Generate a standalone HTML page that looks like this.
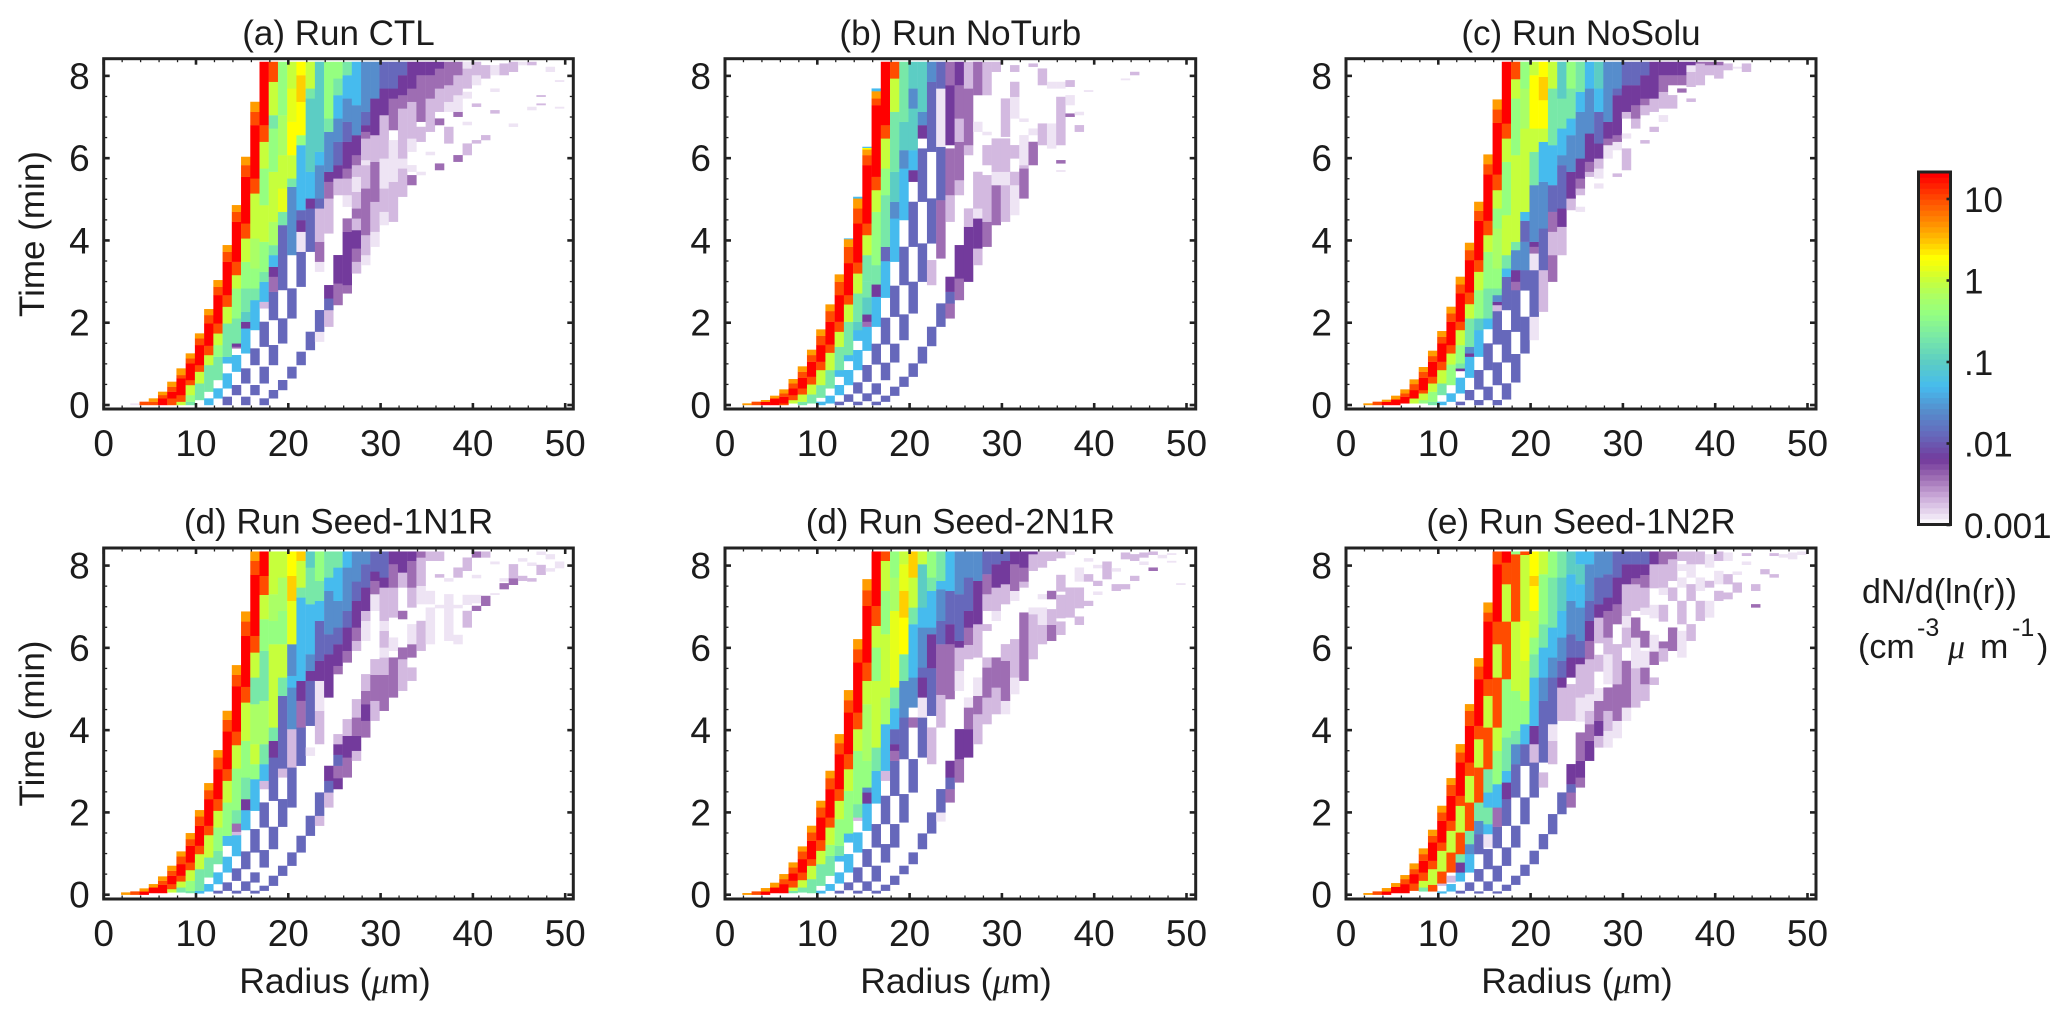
<!DOCTYPE html>
<html lang="en">
<head>
<meta charset="utf-8">
<title>Droplet size distribution time series</title>
<style>
html,body{margin:0;padding:0;background:#fff;}
svg{display:block;font-family:"Liberation Sans",sans-serif;fill:#1c1c1c;}
.mu{font-family:"Liberation Serif",serif;font-style:italic;}
</style>
</head>
<body>
<svg id="figure" xmlns="http://www.w3.org/2000/svg" width="2067" height="1020" viewBox="0 0 2067 1020">
<rect x="0" y="0" width="2067" height="1020" fill="#ffffff"></rect>
<g id="panels"></g>
<g id="colorbar"></g>
<text transform="translate(44,234) rotate(-90)" text-anchor="middle" font-size="35">Time (min)</text>
<text transform="translate(44,723.5) rotate(-90)" text-anchor="middle" font-size="35">Time (min)</text>
<text x="335" y="993" text-anchor="middle" font-size="35.5">Radius (<tspan class="mu">μ</tspan>m)</text>
<text x="956" y="993" text-anchor="middle" font-size="35.5">Radius (<tspan class="mu">μ</tspan>m)</text>
<text x="1577" y="993" text-anchor="middle" font-size="35.5">Radius (<tspan class="mu">μ</tspan>m)</text>
<text x="1862" y="603" font-size="34">dN/d(ln(r))</text>
<g font-size="34">
<text x="1858" y="658">(cm</text>
<text x="1917" y="636" font-size="25">-3</text>
<text class="mu" x="1948" y="658">μ</text>
<text x="1980" y="658">m</text>
<text x="2012" y="636" font-size="25">-1</text>
<text x="2037" y="658">)</text>
</g>
</svg>
<script>
// log10(dN/d ln r) levels
const R=1.3,O=1,A=.65,Q=.45,Y=.29,U=.15,L=0,H=-.2,G=-.4,T=-.7,C=-1,S=-1.3,B=-1.6,I=-1.9,P=-2.2,M=-2.42,V=-2.72,W=-2.9,N=-3;

const timeStepMinutes = 0.081;
const panelTitles = ["(a) Run CTL","(b) Run NoTurb","(c) Run NoSolu","(d) Run Seed-1N1R","(d) Run Seed-2N1R","(e) Run Seed-1N2R"];
const radiusTicks = [0,10,20,30,40,50];
const timeTicks = [0,2,4,6,8];
const colorbarTicks = [10,1,.1,.01,.001];
const colorbarTickLabels = ["10","1",".1",".01","0.001"];

// each row: radius bin, then time-step, log-value, time-step, log-value, ... closing time-step
const cellsA = [
[3,0,W,.5],[4,0,O,1],[5,0,O,1,A,2],[6,0,R,2,O,3,A,4],[7,0,O,2,R,4,O,5.5,A,7],
[8,0,L,1,O,3,R,8,O,9,A,11],[9,0,T,1,G,3,L,6,O,7.5,R,12.5,O,14,A,15.5],
[10,1.5,T,6.5,L,10,O,12,R,18,O,20,A,21.5],
[11,0,S,2,N,4,T,12,L,15,O,17.8,R,24.5,O,27,A,28.8],
[12,2,S,5,N,7.5,T,14.5,G,18,L,21.5,O,24.5,R,33,O,35.5,A,37.5],
[13,0,I,2.5,N,5,S,9.5,N,12.5,S,14.5,T,24.5,L,29.5,O,33,R,43,O,46,A,48],
[14,3,I,6,N,10,S,15,N,17,M,17.5,P,18.5,T,26,G,35,L,39,O,43,R,55,O,58,A,60],
[15,0,I,2.5,N,6.5,I,11,N,15.5,S,23,P,25,C,28,T,35,G,43,L,50,O,54.5,R,68.5,O,72,A,74.5],
[16,3,I,6,N,12,I,17,N,22.5,S,31.5,T,35,G,41,H,50,L,63.5,O,68,R,84,O,88,A,91],
[17,0,I,2,N,6.5,I,11.5,N,17.5,I,25,N,29,V,31,S,37,T,40,G,49,L,60,G,71,L,79,O,84,R,103],
[18,2,I,4.5,N,12,I,18,N,25.5,I,34,M,38.5,P,41.5,S,45,T,48,H,55,L,70,G,83,T,87,L,97,O,103],
[19,4.5,I,7.5,N,18.5,I,26,N,34.5,I,54,T,58,U,65,L,75,H,87,G,103],
[20,8,I,11.5,N,26,I,35,N,45,B,65.5,T,68,L,75,Y,85,U,95,L,103],
[21,12,I,16,N,35.5,I,46,W,52,P,55.5,I,58.5,S,78,G,81,Y,91,Q,99,Y,103],
[22,16.5,I,22,N,46,I,59,P,62,S,70,C,92,T,95,L,103],
[23,19,W,22,I,28.5,N,40,W,43,M,49,V,59,I,62,B,72,S,76,C,103],
[24,23.5,V,28.5,I,32,P,36,N,51.5,V,62,M,67,P,70,B,82,T,86,G,103],
[25,30,M,36.5,P,45,N,63,V,68,P,72,I,79,B,86,S,93,T,98,G,103],
[26,33.5,M,36,P,52,M,56,N,59.5,W,63,V,68,M,71,P,79,I,85,B,92,S,99,T,103],
[27,39.5,V,43,M,47,P,52.5,V,56,M,59,V,64,W,68.5,V,72,M,75,P,81,B,90,S,103],
[28,42,W,45,V,51,M,65,V,72,W,73.5,V,80,M,82,P,84,I,88,B,103],
[29,47.5,W,52,V,61,M,73,V,81,P,92,B,103],
[30,54,W,58,V,65,W,74,V,87,P,95,I,103],
[31,55,V,67,W,79.5,N,82.5,M,92,P,95,I,103],
[32,62.5,V,71,W,74,V,89,M,93,P,99,I,103],
[33,66,M,69,N,70,W,72,N,76,W,80,V,91,M,95,P,103],
[34,69,W,70,N,79,V,83.5,N,85,M,99,P,103],
[35,75,W,76,N,82,V,92,M,99,P,103],
[36,70.5,M,72.5,N,84,M,86,N,88,V,95,M,101,P,103],
[37,78.5,V,83.5,N,88,W,91,V,96,M,103],
[38,73,M,75,N,86.5,M,88,W,93,V,99,M,103],
[39,75,V,78.5,N,84,W,85,N,92,W,94,N,95,V,101,W,103],
[40,78.5,V,79.5,N,89.5,V,90.5,N,96,W,99,V,103],
[41,79.5,V,81,N,98,V,102],[42,87.5,V,88.5,N,94,W,95,N,99,W,102],[43,99,V,102.5],
[44,83.5,W,84.5,N,100,V,103],[45,102,W,103],[46,88.5,W,89.5,N,102,V,103],
[47,90,V,90.5,N,92.5,V,93],[48,100,W,101.5],[49,89,W,89.5,N,97,W,97.5]
];

const cellsB = [
[2,0,A,.5],[3,0,O,1],[4,0,R,1,A,1.5],[5,0,R,2,A,2.8],[6,0,O,.5,R,2.5,O,3.5,A,4.7],
[7,.5,L,1.5,O,3,R,5,O,6.5,A,7.8],[8,0,T,1,L,3.2,O,5,R,8.2,O,10,A,11.6],
[9,.5,T,3.2,L,6.2,O,8.5,R,13,O,15,A,16.6],
[10,0,S,1,N,2.2,T,6,L,10.5,O,13,R,18,O,20.8,A,22.7],
[11,.5,S,2.8,N,5,T,10.5,L,15.7,O,18.2,R,25,O,28.2,A,30.2],
[12,0,I,1,N,3,S,6,N,8.5,S,10.5,T,17.5,L,22,O,25,R,33,O,37,A,39.2],
[13,1,I,3.2,N,6,S,10.5,N,13.2,S,15,T,25,L,30.2,O,33,R,42.6,O,47.5,A,49.8,S,50],
[14,0,I,1,N,3.5,I,6.8,N,10.5,S,16.5,N,19.3,S,22.5,C,25,T,33.5,L,39.5,O,42.8,R,54.5,O,59,A,62,S,62.5],
[15,1.2,I,3.5,N,7,I,12,N,16.3,S,23.5,M,25,P,27.2,C,32.3,T,37,T,45,L,51,O,54.5,R,72,O,75,A,76.7,Y,77.2,S,77.5],
[16,0,I,1,N,3.2,I,6.5,N,12.2,I,18.4,N,23.5,S,32.5,P,36.2,T,42,G,58,L,64.5,O,68.5,R,90,O,92,A,94.2,S,95],
[17,1,I,2.8,N,7.5,I,12.7,N,18.2,I,26.2,N,32.2,S,43.2,I,47.5,T,63,G,71,L,80,O,84,R,103],
[18,2.8,I,5.5,N,12.8,I,18.4,N,26.5,I,35.8,N,43,S,56,B,61,C,70,T,88,L,98,O,103],
[19,5.5,I,8.5,N,19.5,I,27.2,N,36,I,47.5,N,55.5,S,71,B,76.5,C,85,T,103],
[20,8.5,I,12.5,N,27.5,I,37,N,47.5,I,61,N,67,P,70.5,S,76.5,C,89,B,95,C,103],
[21,12.5,I,17.5,N,37,I,48.5,N,61,I,77,N,80,P,84,B,88,C,103],
[22,17.7,I,23.5,N,36,V,43.5,N,48.5,I,62,N,76,I,97,B,103],
[23,23.5,I,30.5,N,44,M,61.5,I,77.5,W,95,I,103],
[24,26,M,30.5,I,34,P,38.5,N,55,V,63,M,77,N,78,P,96,M,103],
[25,31.5,M,38,P,48,N,63,V,67.5,M,79,V,86,M,96,P,103],
[26,37,P,53.5,V,59,N,75,V,78,M,95,V,103],
[27,42,V,47,P,56,W,59,V,70,N,82,W,85,N,93,M,103],
[28,47.5,M,55,V,69,N,72,V,78,N,81,W,82,N,93,V,103],
[29,54,M,66,W,70,V,80,N,100,V,103],
[30,55,V,66,W,70,V,80,N,80.5,V,92],
[31,57,W,66,V,70,N,74,V,78,N,86,W,92.5,V,97,N,100,V,102],
[32,62,M,71,V,72,N,72,W,81,N,85,W,86],
[33,72,M,79,N,81,W,83,N,101.5,V,102.5],
[34,78,V,84.5,N,96,V,101],[35,77,W,84.5,N,95,W,97],
[36,70,W,70.5,N,72.5,M,73.5,N,78,V,92.5,N,95,W,97],
[37,86.5,M,87.5,N,90,W,93,N,95.5,V,97.5],[38,82,V,84,N,87,W,88],[39,94,W,94.5],
[43,97.5,W,98],[44,99,V,100]
];

const cellsC = [
[2,0,A,.5],[3,0,O,1],[4,0,R,1,A,1.6],[5,0,R,1.7,A,2.8],[6,.5,R,2.5,O,3.5,A,4.7],
[7,.5,L,2,R,4.5,O,6.3,A,7.7],[8,.5,G,1.5,L,3.5,O,4.5,R,8.2,O,10,A,11.4],
[9,0,T,1,G,4,L,6.5,O,8.5,R,13,O,14.7,A,16.3],
[10,0,S,1,N,3,T,6.5,L,10.5,O,13,R,18.5,O,20.5,A,22.2],
[11,1,S,3.5,N,6,G,12.2,L,15.5,O,18,R,25,O,27.5,A,29.5],
[12,0,I,1,N,3.5,S,8.2,N,10.2,P,11,T,12.5,G,18,L,22.5,O,25,R,33.5,O,36.2,A,38.5],
[13,1.5,I,4.5,N,8.2,S,14.5,P,15.5,B,17.5,T,26,L,30.3,O,33.8,R,43.5,O,46.5,A,48.7],
[14,0,I,1.5,N,4.7,I,10.5,N,14.5,S,22.5,C,26,G,34.5,L,40,O,43.5,R,55.3,O,58.3,A,61],
[15,1.5,I,5.5,N,10.5,I,18.5,N,22.8,S,26,T,35,G,46,L,51,O,55.3,R,69.2,O,72.3,A,75.2],
[16,0,I,1.5,N,6,I,12.8,N,18.2,I,28.2,V,30,P,31,B,33,T,35,G,41,H,53,G,59,L,64.5,O,69.2,R,84.7,O,88.7,A,91.7],
[17,1.7,I,6.5,N,12.8,I,22.5,N,28.5,I,38.5,S,41,T,45,L,57,G,73,L,80,O,84.5,R,103],
[18,6.8,I,15.3,N,22,I,34.5,M,37,P,40.5,B,46.5,T,49,L,75,G,92,L,97.8,O,103],
[19,15.5,I,26.5,N,34.4,I,40.5,B,49,I,55.3,S,58,L,83,H,95,G,103],
[20,19.5,W,26.5,I,40.5,W,45.5,M,47.5,P,49,B,66,T,76,L,83,Y,99,L,103],
[21,28,V,40.5,I,53,B,67,S,79,L,83,Y,91.5,Q,98.5,Y,103],
[22,37,M,45,V,52,M,58,I,66,S,78,T,95,L,103],
[23,45,V,53.5,P,59,I,72,B,75,S,83,T,92,C,103],
[24,58.5,V,62,P,70,B,81,S,86,T,95,G,103],
[25,58,W,59.5,N,63,V,65,M,68,P,74,B,88,S,94,T,103],
[26,68.5,V,70,M,73,P,81.5,B,95,S,103],
[27,65,W,66.5,N,68,W,71,V,74,P,78.5,I,88,S,95,C,103],
[28,74,W,78,M,80,P,85,B,103],
[29,68.5,V,69.5,N,76.5,W,79,M,81,P,93,I,95,B,103],
[30,70.5,V,77,N,80,W,81.5,N,86,V,88,P,96,I,103],
[31,83,V,86,M,90,P,96,I,103],
[32,78.5,V,79.5,N,87,V,90,M,92,P,99,I,103],
[33,82,V,83.5,N,88,V,92,P,103],
[34,85,W,87,N,89,V,94,M,99,P,103],
[35,89,V,93,N,96,M,99,P,103],
[36,93.8,M,95,N,96,M,99,P,103],
[37,91,V,92,N,95.5,V,100,W,102,P,103],
[38,96,V,102.5,M,103],[39,99,V,102,M,103],[40,98,V,102,M,103],[41,100.5,V,102.5],
[42,101,W,101.5],[43,100,V,102.5]
];

const cellsD = [
[2,0,A,.7],[3,0,O,1],[4,0,R,1,A,1.9],[5,.5,R,2.2,A,3.2],[6,.5,R,3,O,4.2,A,5.5],
[7,.7,L,1.7,O,3.2,R,5.7,O,7.2,A,8.7],[8,.7,T,2.2,L,4,O,5.7,R,9.2,O,11.5,A,13],
[9,.5,T,1.2,G,4.2,L,7.4,O,9.7,R,14.7,O,16.7,A,18.5],
[10,.4,S,1.2,T,7.7,L,12.2,O,14.7,R,20.7,O,23.5,A,25.4],
[11,1,S,3.2,N,5.2,T,11.2,L,17.9,O,20.7,R,28.7,O,31.4,A,33.5],
[12,.4,I,1.2,N,3.2,S,6.7,N,9.2,T,13.2,G,20.2,L,25.2,O,28.7,R,37.7,O,41.2,A,43.4],
[13,1.2,I,3.7,N,6.7,S,11.4,N,14.7,S,17.7,G,27.7,L,34.2,O,37.7,R,49,O,52.5,A,55.2],
[14,.4,I,1.2,N,4.2,I,7.9,N,11.6,S,17.9,V,18.9,M,21.4,T,25.4,G,37.9,L,44.9,O,49,R,62.6,O,66,A,68.9],
[15,1.2,I,4,N,7.7,I,13,N,19.4,S,25.4,P,28.7,T,35.2,G,46.2,L,57.7,O,62.4,R,77.7,O,82,A,85],
[16,.4,I,1.2,N,3.7,I,6.7,N,12.7,I,19.7,N,25.2,S,34.7,G,39.2,L,45.2,H,57.2,T,65.2,L,72.7,O,77.7,R,96,O,100.2,A,103],
[17,1.2,I,2.7,N,8.2,I,13.4,N,20.2,I,27.7,N,31.7,V,34.2,S,39.2,T,45.2,H,58.2,T,73.2,G,82.7,L,90,O,95.7,R,103],
[18,2.7,I,5.7,N,13.7,I,20.4,N,28.2,I,41.2,P,46.2,T,50.2,L,75.2,G,82.2,H,90.2,L,103],
[19,5.7,I,8.7,N,20.4,I,28.7,N,35.2,V,37.9,I,59.7,T,65.2,L,75.2,G,85.2,H,95.2,L,103],
[20,8.7,I,12.7,N,26.2,I,38.2,V,49.7,B,62.2,S,65.7,B,75.2,U,88.2,Q,95.7,Y,103],
[21,12.7,I,17.7,N,38.7,I,50.2,M,58.2,P,64.2,S,89.2,T,92.2,L,100.2,Q,103],
[22,17.7,I,23.7,N,41.7,W,44.2,N,50.7,I,64.2,P,67.2,B,72.2,S,87.2,T,98.2,C,103],
[23,20.7,V,23.7,I,30.7,N,45.2,V,55.2,W,64.2,P,70.2,I,82.2,S,88.2,T,94.2,G,103],
[24,26.2,V,30.7,I,34.2,P,38.7,N,59.2,P,72.2,I,78.2,B,91.2,S,95.2,T,103],
[25,31.7,P,35,M,38.7,I,42,P,45.2,V,48.2,N,66.2,M,68.7,P,75.2,I,80.2,B,88.2,S,98.2,T,103],
[26,35.2,M,41.2,P,47.7,V,52.7,N,69.7,M,73.2,P,80.2,I,85.2,B,98.2,S,103],
[27,40.2,V,43.2,P,47.7,M,53.2,V,58.7,N,73.2,V,76.2,M,80.2,P,88.2,I,94,B,103],
[28,47.2,M,52.2,P,57.2,M,61.2,V,66.2,N,76.2,W,82.2,V,85.2,P,92.2,I,99.2,B,103],
[29,52.2,V,58.2,M,66,V,70.7,N,85.2,W,90.2,M,94.2,P,97,I,103],
[30,55.2,M,66,V,71.2,W,74.2,V,79.2,W,82.2,V,92.2,P,95.2,I,103],
[31,59.2,M,71.2,N,73.2,W,77.2,N,83.2,V,92.2,M,99.2,P,103],
[32,61.2,V,70.7,M,74.2,N,82.7,M,85.2,N,92.2,V,96.7,P,103],
[33,64.2,V,68.2,N,71.2,M,75.2,W,81.2,N,86.2,V,92.2,M,100.2,P,103],
[34,73.2,V,82.2,N,87.2,W,92.7,V,101.2,M,103],
[35,75.2,W,86.2,N,87.2,W,91.2,N,100.2,V,103],
[36,86,W,87,N,95.2,V,96.2,N,100.2,V,103],
[37,76.2,W,90.2,N,94,W,95],
[38,75.2,W,78,N,86,W,87,N,95.2,V,98.2],
[39,80.2,V,85.2,N,87,W,90,N,97.2,V,101.2],
[40,85.2,M,86.7,N,87.5,W,90,N,95,W,96,N,101.2,M,103],
[41,86.7,M,89.7,N,101.2,V,103],[42,90,W,90.5,N,99.2,W,100],[43,91.7,M,93.5,N,94,W,95],
[44,93,M,95,V,99.2],[45,94.2,V,95.7,N,100,W,101],[46,94,V,95,N,98.7,W,99.7],
[47,96,V,99,N,102,W,103],[48,97,W,98,N,100.7,W,102.2],[49,98,W,100]
];

const cellsE = [
[2,0,A,.5],[3,0,O,1],[4,0,R,1,A,2],[5,.5,R,2.2,A,3.6],[6,.5,R,3.2,O,4.7,A,6.2],
[7,.5,T,1.2,L,2.2,O,4.2,R,6.4,O,8.2,A,9.7],[8,.7,T,2.2,L,4.4,O,6.7,R,10.7,O,13,A,14.5],
[9,.5,T,4.7,L,8.7,O,10.7,R,16.2,O,18.7,A,20.7],
[10,.4,S,1.2,N,2.7,T,9.2,L,13.2,O,16.4,R,23.2,O,26.2,A,28.2],
[11,1.2,S,3.2,N,5.7,T,11.7,G,15,L,20.2,O,23.2,R,31.7,O,35,A,37.2],
[12,.4,I,1.2,N,3.4,S,6.7,N,10,S,11.7,T,14.7,G,22.7,L,28.2,O,31.7,R,42.2,O,45.5,A,48.2],
[13,1.4,I,3.7,N,6.7,S,12.2,N,15.7,S,18.4,G,31.2,L,37.7,O,42.2,R,54.7,O,58.4,A,61.4],
[14,.4,I,1.2,N,3.7,I,8.2,N,12.7,S,18.7,N,22.2,V,23.2,T,27.2,G,43.2,L,49.7,O,54.7,R,69.7,O,73.7,A,76.7],
[15,1.2,I,4,N,8.4,I,13.7,N,19.2,S,27.4,P,30.7,B,32.2,G,40.2,H,57.2,L,64.2,O,69.7,R,86.7,O,91.4,A,94.7],
[16,.4,I,1.2,N,4,I,8.7,N,14.2,I,21.2,N,27.4,S,37.2,T,44.2,L,64.2,G,74.2,L,80.7,O,86.7,R,103],
[17,1.2,I,3,N,9.7,I,15.2,N,21.2,I,29.7,N,34.2,V,37.2,S,51.2,H,59.2,L,78.2,G,91.2,L,100.2,O,103],
[18,3,I,5.7,N,14.2,I,21.2,N,29.7,I,40.2,M,43.2,P,45.2,I,49.7,S,56,T,62.2,U,85.2,H,95.2,G,103],
[19,6.2,I,8.7,N,21.7,I,30.2,N,40.7,I,53.2,B,64.2,T,72.2,Y,83.2,Q,91.2,U,99.2,L,103],
[20,9.2,I,12.7,N,30.7,I,40.7,N,50.2,M,53.2,N,56.2,B,65.2,S,81.2,T,86.2,L,95.2,Q,103],
[21,13.7,I,18.4,N,41.2,I,53.2,W,59.2,P,65.2,I,68.2,B,80.2,S,86.2,C,99.2,L,103],
[22,18.4,I,24.7,N,39.2,V,50.2,N,53.7,I,68,P,78.2,B,80.2,S,91.2,T,95.2,G,103],
[23,22,W,24.7,I,31.7,N,50.2,V,60,M,75.2,I,82.2,B,91.7,S,94.2,T,103],
[24,27.7,M,31.7,I,35.2,P,40.2,N,58.7,M,75.2,P,81.2,I,91.2,S,103],
[25,33.7,M,40.7,P,49.7,N,61.2,W,67.2,V,74.2,P,76.2,I,90.2,B,103],
[26,41.2,P,49.7,M,56.2,W,59.2,N,70.7,V,75,M,80.2,P,85.2,I,95.2,B,103],
[27,45.2,V,54.2,M,59.7,W,65.2,N,71.2,V,81.2,P,94.2,B,103],
[28,51.2,V,59.2,M,68.2,V,71.2,N,79.2,V,81.2,N,85.2,V,90.2,M,96.2,I,103],
[29,54.2,V,62.2,M,71.2,N,82.2,W,85.2,V,92.2,P,99.2,I,103],
[30,54.2,W,58.2,M,70.2,V,75.2,N,87.2,V,93.2,P,100.2,I,103],
[31,60.2,W,65.2,V,76.7,N,88.2,W,91.2,M,99.2,P,103],
[32,64.2,M,84.7,N,92.2,V,94,M,98.2,P,103],
[33,70.7,V,84.2,W,86.2,N,97.2,V,102.2,P,103],
[34,75.2,V,81,W,86.2,N,88.7,W,90.2,N,98.2,V,103],
[35,76.2,M,81,V,85.7,N,88.7,M,91.2,N,100.2,V,103],
[36,78,V,82,N,83,V,90,N,91,V,96,N,101,V,103],
[37,83.2,V,92.2,N,102,W,103],
[38,81,V,83.5,N,86,V,92.2,N,94,W,98.2],
[39,86.7,V,88.2,N,94,V,96.2,N,100,W,101],
[40,90,W,91,N,92.7,V,94.2,N,98,W,99],
[41,94.7,V,100],[42,91.2,V,93.2,N,97,W,98],[43,91.7,V,93.2,N,100.7,V,102.7],
[44,94.2,V,95.7,N,100.2,V,102.2],[45,99,W,100,N,101.2,V,102.7],[46,97.2,M,98.2,N,102,V,103],
[47,101,W,102],[48,99.7,W,100.2,N,102,W,102.5],[49,93,W,93.5]
];

const cellsF = [
[2,0,A,.5],[3,0,O,1],[4,0,R,1,A,2],[5,.5,R,2.4,A,3.5],[6,.5,R,3.2,O,4.7,A,5.9],
[7,1.2,O,3.4,R,6.2,O,7.7,A,9.4],[8,1,T,2.2,L,4.2,O,6.7,R,10.2,O,12.2,A,13.9],
[9,1,O,3,L,7.7,O,10.2,R,15.7,O,17.7,A,19.5],
[10,.4,S,1,N,2.7,V,3.4,O,7,L,13.2,O,15.7,R,22.2,O,24.7,A,26.7],
[11,1,S,3.2,N,3.7,V,5.7,N,6.7,O,12.7,L,19.2,O,22.2,R,29.7,O,33,A,35],
[12,.4,I,1.2,N,4,S,6.7,P,9.7,T,12.2,O,18.7,L,26.7,O,29.7,R,39.7,O,42.7,A,45.2],
[13,1.2,I,3.7,N,6.7,S,12.2,B,15.2,T,19.2,O,27.7,L,35.7,O,39.7,R,50.7,O,55.2,A,57.2],
[14,.4,I,1,N,4,I,7.7,N,12.2,I,18.2,B,22.2,T,27.7,O,38.2,L,46.7,O,50.7,R,64.7,O,68.5,A,71],
[15,1.2,I,4,N,7.7,I,13.7,N,14.2,W,18.2,S,21.2,T,26.2,S,30.7,T,37.7,O,50.2,L,59.7,O,64.7,R,82,O,84.7,A,87.7],
[16,.4,I,1,N,4,I,8.7,N,14,I,20.4,M,26.2,S,33.2,G,43.2,L,50.2,O,65.2,L,75.2,O,82,R,99.2,O,103],
[17,1.2,I,3,N,8.7,I,14.2,N,20.7,I,28.7,P,33.7,S,37.2,T,47.2,G,64.7,O,82,L,93.2,O,99.7,R,103],
[18,3,I,5.7,N,14.2,I,20.7,N,29.2,I,39.2,B,45.2,T,49.2,G,61.2,L,82,O,102.2,G,103],
[19,5.7,I,9,N,21.2,I,29.2,N,38.7,I,45.2,S,51.2,G,58.2,L,70.2,U,82.2,L,102,O,103],
[20,9.2,I,13.2,N,29.2,I,39.7,V,45.2,P,50.7,S,65.2,T,72.2,G,77.2,L,85.2,Y,92.7,Q,95.7,Y,103],
[21,13.7,I,18.2,N,32.2,V,36.7,N,39.7,I,58.2,B,65.2,S,74.2,T,81.2,G,96.2,L,103],
[22,18.2,I,24.2,N,39.2,V,46.2,W,51.2,I,65.2,B,71.2,S,80.2,T,95.2,G,103],
[23,24.2,I,30.7,N,52.2,V,62.2,P,65.2,I,70.2,B,77.2,S,85.2,C,95.2,T,103],
[24,26.2,M,30.7,I,33.2,P,39.2,N,52.2,V,63.2,N,65.2,P,71.2,I,78.2,B,88.2,S,96.2,C,103],
[25,32.2,M,35.2,P,40.2,M,48.7,N,52,W,59.2,V,69.2,P,71.2,I,76.2,B,86.2,S,93.2,C,99.2,S,103],
[26,40.2,P,46.2,M,51.2,V,55.2,W,60.2,V,70.7,M,76.2,P,82.2,I,88.2,B,99.2,S,103],
[27,44.2,V,47.7,P,52.2,M,58.2,W,62,N,67,V,72,N,75.5,V,83.2,P,87.2,I,95.2,B,103],
[28,44.2,W,49.2,V,55.2,M,62.2,N,63.2,W,72.2,V,77.2,M,85.2,P,89.2,I,96.2,B,103],
[29,47,W,52.2,M,63.2,V,75.2,N,81.2,M,87.2,P,95.2,I,103],
[30,52.2,W,56.2,M,70.2,N,74.2,V,80.2,W,83.7,V,93.2,P,99.2,I,103],
[31,56.2,V,68,W,77.2,M,83.2,N,85.2,V,93.2,M,95,P,99.2,I,103],
[32,58.2,V,63.2,M,68.2,W,73.2,N,74.2,M,79.2,N,84,W,86.2,V,92.2,M,96,P,99.2,I,103],
[33,63,V,65.2,N,69,M,73,W,78,N,83,W,87,N,92,V,99.2,P,103],
[34,70,V,74,M,76,N,82,V,87,N,90,W,92.2,V,99.2,M,103],
[35,73.2,M,80.2,N,88.2,V,92.2,N,94.2,V,100.7,M,103],
[36,71.2,W,79.2,N,81.2,V,88.2,N,92.2,W,95.2,N,97.2,W,99.2,N,100.2,V,103],
[37,76.2,V,81.2,N,88.2,V,93.2,N,95.2,W,99.2,V,103],
[38,82.2,V,88.2,N,91.2,W,95.2,N,99.2,V,103],
[39,83.2,W,88.2,N,92.2,V,94.2,N,98.2,W,102.2],
[40,88.2,V,91.2,N,93.2,W,97.2,N,100.2,V,103],
[41,88.7,V,90.7,N,93.2,V,96.2,N,100.2,W,102.7],
[42,90.7,V,93.7,N,96,W,97],[43,99,W,100,N,101.7,V,102.5],[44,86.2,M,87.2,N,91.2,V,93.2],
[45,96.2,V,97.7],[46,95.2,V,96.2,N,101.7,V,102.5],[47,101.2,W,102.2],[48,100.7,W,102.7],[49,102,W,103]
];

const panelCells = [cellsA,cellsB,cellsC,cellsD,cellsE,cellsF];

const svgNs = "http://www.w3.org/2000/svg";
const ink = "#222222";
const colormapLevels = [1.34,1.3,1,.65,.45,.29,.15,0,-.2,-.4,-.7,-1,-1.3,-1.6,-1.9,-2.2,-2.4,-2.65,-2.88,-3];
const colormapColors = ["#ff0000","#ff0000","#ff4c00","#ff9c00","#ffcf00","#ffff00","#e6ff1a","#c6ff3c","#aaff66","#95ff80","#78e8a8","#5ccdc4","#46bbee","#568dcc","#6668bb","#733a9c","#9a68b0","#c9a8d8","#ebdff2","#ffffff"];

function hexToRgb(h){return [parseInt(h.substr(1,2),16),parseInt(h.substr(3,2),16),parseInt(h.substr(5,2),16)];}
function colorFor(v){
  if(v>=colormapLevels[0]) return colormapColors[0];
  for(let i=1;i<colormapLevels.length;i++){
    if(v>=colormapLevels[i]){
      const f=(colormapLevels[i-1]-v)/(colormapLevels[i-1]-colormapLevels[i]);
      const a=hexToRgb(colormapColors[i-1]),b=hexToRgb(colormapColors[i]);
      return "rgb("+[0,1,2].map(j=>Math.round(a[j]+(b[j]-a[j])*f)).join(",")+")";
    }
  }
  return "#ffffff";
}
function make(tag,parent,attrs,txt){
  const el=document.createElementNS(svgNs,tag);
  for(const k in attrs) el.setAttribute(k,attrs[k]);
  if(txt!==undefined) el.textContent=txt;
  parent.appendChild(el);
  return el;
}

const columnX0 = [103.7,725,1346];
const columnX1 = [573.3,1195.7,1816];
const rowTop = [58.7,548];
const rowBottom = [409,899];
const rowY0 = [405,894.7];
const pxPerRadius = 9.23;
const pxPerMinute = 41.14;
const binOffset = -0.12;

const panelsRoot = document.getElementById("panels");

panelCells.forEach(function(cells,idx){
  const col=idx%3,row=Math.floor(idx/3);
  const x0=columnX0[col],x1=columnX1[col],top=rowTop[row],bot=rowBottom[row],y0=rowY0[row];
  const xScale=r=>x0+r*pxPerRadius;
  const yScale=t=>y0-t*pxPerMinute;
  const letter="abcdef"[idx];

  const g=make("g",panelsRoot,{});
  
  

  const heat=make("g",g,{});
  
  

  cells.forEach(function(column){
    const r=column[0];
    for(let i=1;i+2<column.length;i+=2){
      const k0=column[i],v=column[i+1],k1=column[i+2];
      if(v<=-3||k1<=k0) continue;
      const xa=xScale(r+binOffset),xb=xScale(r+1+binOffset);
      const ya=yScale(k1*timeStepMinutes),yb=yScale(k0*timeStepMinutes);
      const cell=make("rect",heat,{x:xa.toFixed(2),y:ya.toFixed(2),width:(xb-xa+.2).toFixed(2),height:(yb-ya+.2).toFixed(2),fill:colorFor(v)});
      
      
    }
  });

  const title=make("text",g,{x:(x0+x1)/2,y:row?533.5:45,"text-anchor":"middle","font-size":35},panelTitles[idx]);
  
  

  const frame=make("rect",g,{x:x0,y:top,width:x1-x0,height:bot-top,fill:"none",stroke:ink,"stroke-width":3});
  
  

  const tickGroup=make("g",g,{stroke:ink});
  
  

  for(let m=0;m<=50;m+=2){
    if(m%10===0) continue;
    make("line",tickGroup,{x1:xScale(m),x2:xScale(m),y1:bot,y2:bot-3.5,"stroke-width":1.3});
    make("line",tickGroup,{x1:xScale(m),x2:xScale(m),y1:top,y2:top+3.5,"stroke-width":1.3});
  }
  for(let m=0;m<=8;m+=.5){
    if(m%2===0) continue;
    make("line",tickGroup,{x1:x0,x2:x0+3.5,y1:yScale(m),y2:yScale(m),"stroke-width":1.3});
    make("line",tickGroup,{x1:x1,x2:x1-3.5,y1:yScale(m),y2:yScale(m),"stroke-width":1.3});
  }
  radiusTicks.forEach(function(v){
    make("line",tickGroup,{x1:xScale(v),x2:xScale(v),y1:bot,y2:bot-6,"stroke-width":2.6});
    make("line",tickGroup,{x1:xScale(v),x2:xScale(v),y1:top,y2:top+6,"stroke-width":2.6});
    const lab=make("text",g,{x:xScale(v),y:bot+47,"text-anchor":"middle","font-size":37},String(v));
    
    
  });
  timeTicks.forEach(function(v){
    make("line",tickGroup,{x1:x0,x2:x0+6,y1:yScale(v),y2:yScale(v),"stroke-width":2.6});
    make("line",tickGroup,{x1:x1,x2:x1-6,y1:yScale(v),y2:yScale(v),"stroke-width":2.6});
    const lab=make("text",g,{x:x0-14,y:yScale(v)+13,"text-anchor":"end","font-size":37},String(v));
    
    
  });
});

// colour bar
const cbarRoot=document.getElementById("colorbar");
const cbarScale=v=>280.5-81.5*Math.log10(v);
const cbarTop=172,cbarBottom=524.5,cbarLeft=1918.5,cbarRight=1950.5,cbarBands=64;
for(let i=0;i<cbarBands;i++){
  const f=(i+.5)/cbarBands;
  const yBand=cbarBottom-(cbarBottom-cbarTop)*(i+1)/cbarBands;
  const band=make("rect",cbarRoot,{x:cbarLeft,y:yBand.toFixed(2),width:cbarRight-cbarLeft,height:((cbarBottom-cbarTop)/cbarBands+.3).toFixed(2),fill:colorFor(-3+f*4.34)});
  
  
}
const cbarFrame=make("rect",cbarRoot,{x:cbarLeft,y:cbarTop,width:cbarRight-cbarLeft,height:cbarBottom-cbarTop,fill:"none",stroke:ink,"stroke-width":3});


colorbarTicks.forEach(function(v,i){
  const yy=cbarScale(v);
  const tick=make("line",cbarRoot,{x1:cbarRight,x2:cbarRight-4,y1:yy,y2:yy,stroke:ink,"stroke-width":2.6});
  
  
  const lab=make("text",cbarRoot,{x:1964,y:yy+13,"font-size":35},colorbarTickLabels[i]);
  
  
});
</script>
</body>
</html>
